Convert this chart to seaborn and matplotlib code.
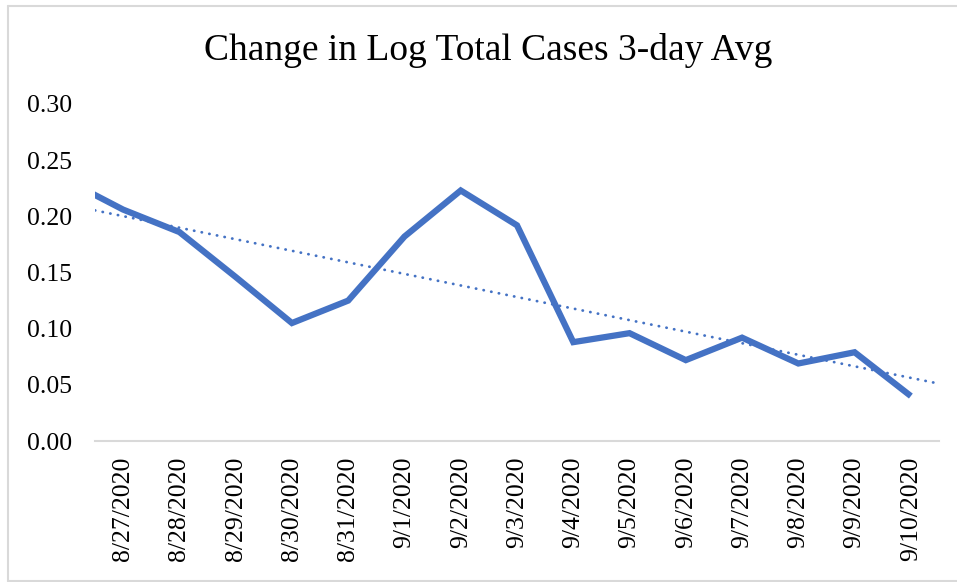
import numpy as np
import pandas as pd
import matplotlib
matplotlib.use("Agg")
import matplotlib.pyplot as plt
from matplotlib.lines import Line2D
import seaborn as sns

# ---- data ----
dates = ["8/26/2020", "8/27/2020", "8/28/2020", "8/29/2020", "8/30/2020", "8/31/2020",
         "9/1/2020", "9/2/2020", "9/3/2020", "9/4/2020", "9/5/2020", "9/6/2020",
         "9/7/2020", "9/8/2020", "9/9/2020", "9/10/2020"]
values = [0.232, 0.206, 0.186, 0.146, 0.105, 0.125, 0.182, 0.223, 0.192,
          0.088, 0.096, 0.072, 0.092, 0.069, 0.079, 0.040]
positions = list(range(-1, len(dates) - 1))   # 8/26 lies just left of the visible axis
shown_labels = dates[1:]
y_ticks = [0.00, 0.05, 0.10, 0.15, 0.20, 0.25, 0.30]
title = "Change in Log Total Cases 3-day Avg"

df = pd.DataFrame({"pos": positions, "value": values, "date": dates})

sns.set_style("white")
plt.rcParams["font.family"] = ["Liberation Serif", "DejaVu Serif"]
plt.rcParams["text.color"] = "black"
plt.rcParams["xtick.color"] = "black"
plt.rcParams["ytick.color"] = "black"
plt.rcParams["xtick.labelcolor"] = "black"
plt.rcParams["ytick.labelcolor"] = "black"

W, H = 957, 582
fig = plt.figure(figsize=(W / 100, H / 100), dpi=100)
ax = fig.add_axes([95 / W, 1 - 441 / H, (939 - 95) / W, (441 - 104) / H])

blue = "#4472C4"
sns.lineplot(data=df, x="pos", y="value", ax=ax, color=blue, linewidth=4.5,
             solid_joinstyle="miter", solid_capstyle="butt", clip_on=True)

# linear trendline over all data
xlim = (-0.5, len(shown_labels) - 0.5)
slope, intercept = np.polyfit(df["pos"], df["value"], 1)
tx = np.array(xlim)
sns.lineplot(x=tx, y=slope * tx + intercept, ax=ax, color=blue, linewidth=2.0,
             linestyle=(0, (0.1, 2.7)), dash_capstyle="round")

ax.set_xlim(*xlim)
ax.set_ylim(0, 0.30)
ax.set_xlabel("")
ax.set_ylabel("")

# y axis
ax.set_yticks(y_ticks)
ax.set_yticklabels([f"{v:.2f}" for v in y_ticks], fontsize=18.5, color="black")
ax.tick_params(axis="y", length=0, pad=23 * 0.72)

# x axis: labels centred in categories, tick marks at boundaries
ax.set_xticks(range(len(shown_labels)))
ax.set_xticklabels(shown_labels, rotation=90, fontsize=18.5, ha="center", va="top", color="black")
ax.tick_params(axis="x", which="major", length=0, pad=11.5)
ax.set_xticks(np.arange(-0.5, len(shown_labels)), minor=True)
ax.tick_params(axis="x", which="minor", length=4.5, width=1.5, color="#d9d9d9", direction="out")

for s in ["top", "right", "left"]:
    ax.spines[s].set_visible(False)
ax.spines["bottom"].set_color("#d9d9d9")
ax.spines["bottom"].set_linewidth(1.5)
ax.grid(False)

fig.text(488.5 / W, 1 - 50 / H, title, ha="center", va="center", fontsize=27, color="black")

# chart area border (light grey)
bc = "#d9d9d9"
fig.add_artist(Line2D([8 / W, 8 / W], [1 - 6 / H, 1 - 581 / H], color=bc, lw=1.5, transform=fig.transFigure))
fig.add_artist(Line2D([8 / W, 1], [1 - 6 / H, 1 - 6 / H], color=bc, lw=1.5, transform=fig.transFigure))
fig.add_artist(Line2D([8 / W, 1], [1 - 581 / H, 1 - 581 / H], color=bc, lw=1.5, transform=fig.transFigure))

fig.savefig("out.png", dpi=100)
